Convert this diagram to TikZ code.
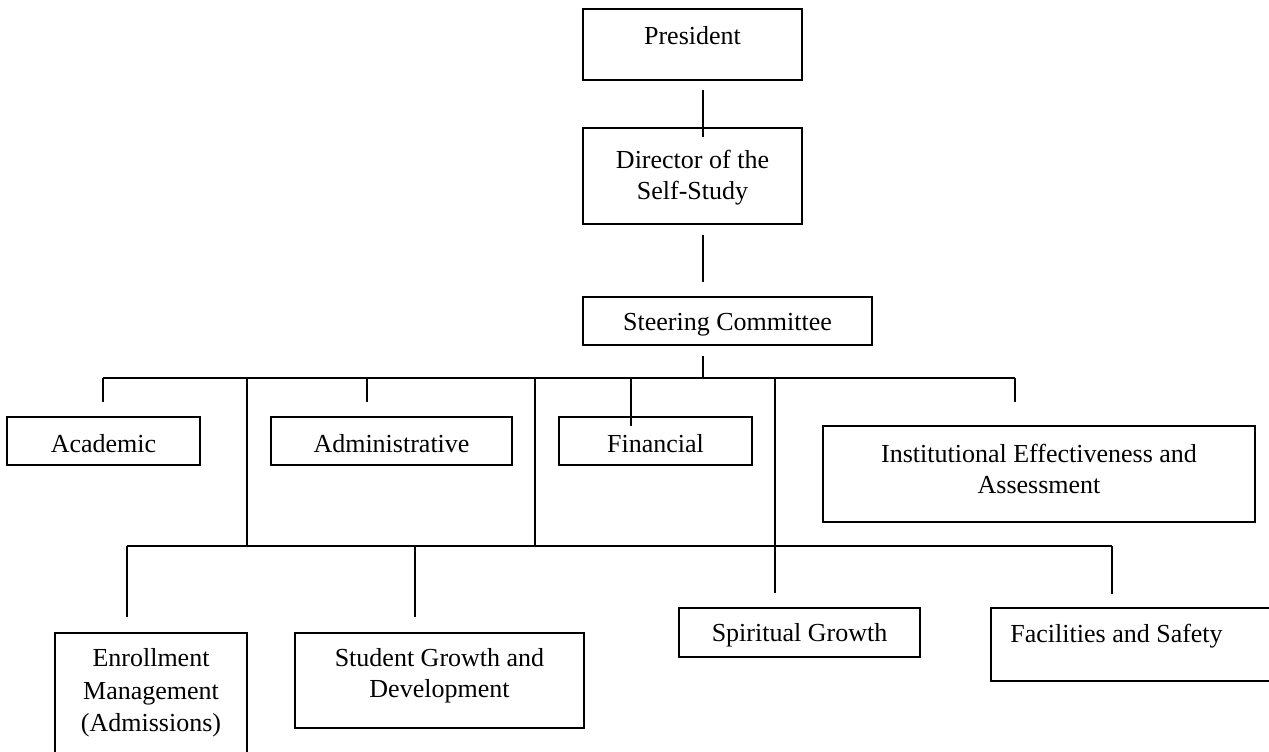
\documentclass[tikz,border=0pt]{standalone}
\usepackage{fontspec}
\setmainfont{Liberation Serif}
\usetikzlibrary{calc}
\begin{document}
\begin{tikzpicture}[x=0.5pt,y=-0.5pt,
  orgbox/.style 2 args={draw, line width=1pt, rectangle, inner sep=0pt,
    minimum width=#1, minimum height=#2},
  txt/.style={font=\fontsize{13}{15.5}\selectfont, align=center, inner sep=0pt},
  link/.style={line width=1pt}]
\useasboundingbox (0,0) rectangle (1269,751);

% top of the chain
\node[orgbox={109.5pt}{35.5pt}, label={[txt,yshift=4.25pt]center:President}] (pres) at (692.5,44.5) {};
\node[orgbox={109.5pt}{48pt}, label={[txt,yshift=-1pt]center:Director of the\\Self-Study}] (dir) at (692.5,176) {};
\node[orgbox={144.5pt}{24pt}, label={[txt,yshift=-1.75pt]center:Steering Committee}] (steer) at (727.5,321) {};

% first row of committees
\node[orgbox={96.5pt}{24pt}, label={[txt,yshift=-1.5pt]center:Academic}] (acad) at (103.5,441) {};
\node[orgbox={120.5pt}{24pt}, label={[txt,yshift=-1.5pt]center:Administrative}] (admin) at (391.5,441) {};
\node[orgbox={96.5pt}{24pt}, label={[txt,yshift=-1.5pt]center:Financial}] (fin) at (655.5,441) {};
\node[orgbox={216pt}{48pt}, label={[txt,yshift=2.75pt]center:Institutional Effectiveness and\\Assessment}] (inst) at (1039,474) {};

% second row of committees
\node[orgbox={96pt}{68.5pt}, label={[txt,yshift=4.25pt,font=\fontsize{13}{16.25}\selectfont]center:Enrollment\\Management\\(Admissions)}] (enroll) at (151,701.5) {};
\node[orgbox={144.5pt}{47.5pt}, label={[txt,yshift=2.5pt]center:Student Growth and\\Development}] (student) at (439.5,680.5) {};
\node[orgbox={120.5pt}{24.5pt}, label={[txt,yshift=-1.5pt]center:Spiritual Growth}] (spirit) at (799.5,632.5) {};
\node[orgbox={149.5pt}{36.5pt}, label={[txt,anchor=west,xshift=10pt,yshift=4.25pt]west:Facilities and Safety}] (facil) at (1140.5,644.5) {};

% spine
\draw[link] ($(pres.south)+(10.5,9)$) -- ($(dir.north)+(10.5,10)$);
\draw[link] ($(dir.south)+(10.5,10)$) -- ($(steer.north)+(-24.5,-14)$);

% buses
\coordinate (busA) at (103,378);
\coordinate (busB) at (1015,378);
\coordinate (hub) at (703,378);
\coordinate (dAdm) at (367,378);
\coordinate (dFin) at (631,378);
\coordinate (tapL) at (247,378);
\coordinate (tapM) at (535,378);
\coordinate (tapR) at (775,378);
\coordinate (busC) at (127,546);
\coordinate (busD) at (1112,546);
\coordinate (dStu) at (415,546);

\draw[link] ($(steer.south)+(-24.5,10)$) -- (hub);
\draw[link] (busA) -- (busB);
\draw[link, shorten >=7pt] (busA) -- (busA |- acad.north);
\draw[link, shorten >=7pt] (dAdm) -- (dAdm |- admin.north);
\draw[link, shorten >=-5pt] (dFin) -- (dFin |- fin.north);
\draw[link, shorten >=11.5pt] (busB) -- (busB |- inst.north);

\draw[link] (tapL) -- (tapL |- busC);
\draw[link] (tapM) -- (tapM |- busC);
\draw[link, shorten >=7pt] (tapR) -- (tapR |- spirit.north);

\draw[link] (busC) -- (busD);
\draw[link, shorten >=7.5pt] (busC) -- (busC |- enroll.north);
\draw[link, shorten >=7.5pt] (dStu) -- (dStu |- student.north);
\draw[link, shorten >=6.5pt] (busD) -- (busD |- facil.north);
\end{tikzpicture}
\end{document}
